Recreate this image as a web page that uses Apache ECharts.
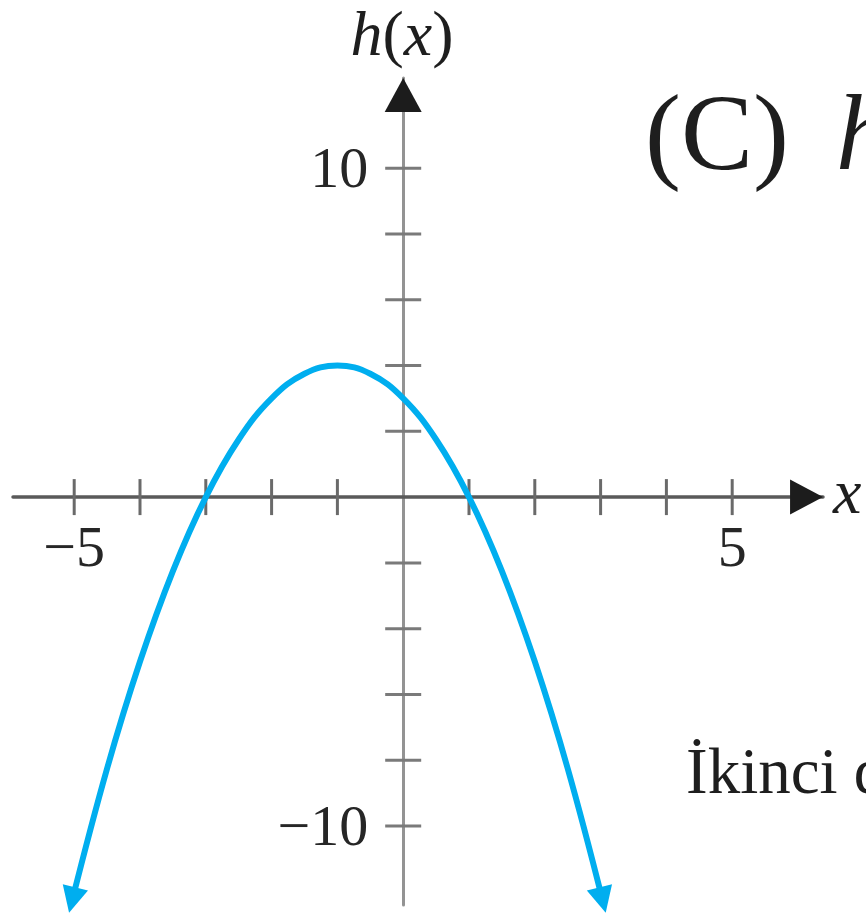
<!DOCTYPE html>
<html>
<head>
<meta charset="utf-8">
<script src="https://cdn.jsdelivr.net/npm/echarts@6/dist/echarts.min.js"></script>
<style>
  html, body { margin: 0; padding: 0; background: #fff; }
  #chart { width: 866px; height: 913px; }
</style>
</head>
<body>
<div id="chart"></div>
<script>
// parabola (vertex at (-1, 4), zeros at -3 and 1)
var curveX = [-5.03, -4.5, -4, -3.5, -3, -2.5, -2, -1.5, -1, -0.5, 0, 0.5, 1, 1.5, 2, 2.5, 3.03];
var curveY = [-12.25, -8.25, -5, -2.25, 0, 1.75, 3, 3.75, 4, 3.75, 3, 1.75, 0, -2.25, -5, -8.25, -12.25];

var xTicks = [-5, -4, -3, -2, -1, 1, 2, 3, 4, 5];
var yTicks = [-10, -8, -6, -4, -2, 2, 4, 6, 8, 10];
var xLabels = [-5, 5];
var yLabels = [-10, 10];

// axis ends (arrow heads)
var xArrow = [6.13, 0];
var yArrow = [0, 12.22];

var serif = 'Liberation Serif';

function fmt(v) {
  return v < 0 ? '\u2212' + Math.abs(v) : '' + v;
}

var myChart = echarts.init(document.getElementById('chart'));

var curveData = [];
for (var i = 0; i < curveX.length; i++) {
  var item = { value: [curveX[i], curveY[i]], symbol: 'none' };
  if (i == 0) {
    item.symbol = 'triangle';
    item.symbolRotate = 166;
  }
  if (i == curveX.length - 1) {
    item.symbol = 'triangle';
    item.symbolRotate = -166;
  }
  curveData.push(item);
}

var labelFont = {
  show: true,
  fontFamily: serif,
  fontSize: 58,
  color: '#262626'
};

var option = {
  animation: false,
  backgroundColor: '#fff',
  grid: { left: 13, right: 43, top: 78, bottom: 8, containLabel: false, outerBoundsMode: 'none' },
  xAxis: {
    type: 'value',
    min: -5.93,
    max: 6.38,
    splitLine: { show: false },
    axisTick: { show: false },
    axisLabel: { show: false },
    axisLine: { show: true, onZero: true, lineStyle: { color: '#5a5a5a', width: 3.5 } }
  },
  yAxis: {
    type: 'value',
    min: -12.4,
    max: 12.74,
    splitLine: { show: false },
    axisTick: { show: false },
    axisLabel: { show: false },
    axisLine: { show: true, onZero: true, lineStyle: { color: '#939393', width: 3 } }
  },
  series: [
    {
      // x-axis ticks crossing the axis
      type: 'scatter',
      symbol: 'rect',
      symbolSize: [3, 36],
      itemStyle: { color: '#6a6a6a', opacity: 1 },
      silent: true,
      z: 2,
      data: xTicks.map(function (v) { return [v, 0]; })
    },
    {
      type: 'scatter',
      symbol: 'rect',
      symbolSize: [36, 3],
      itemStyle: { color: '#7a7a7a', opacity: 1 },
      silent: true,
      z: 2,
      data: yTicks.map(function (v) { return [0, v]; })
    },
    {
      // tick labels on the x axis
      type: 'scatter',
      symbolSize: 0,
      itemStyle: { color: 'transparent', opacity: 1 },
      silent: true,
      label: Object.assign({}, labelFont, {
        position: 'bottom',
        distance: 25,
        formatter: function (p) { return fmt(p.value[0]); }
      }),
      data: xLabels.map(function (v) { return [v, 0]; })
    },
    {
      type: 'scatter',
      symbolSize: 0,
      itemStyle: { color: 'transparent', opacity: 1 },
      silent: true,
      label: Object.assign({}, labelFont, {
        position: 'left',
        distance: 35,
        offset: [0, 4],
        formatter: function (p) { return fmt(p.value[1]); }
      }),
      data: yLabels.map(function (v) { return [0, v]; })
    },
    {
      type: 'scatter',
      symbol: 'triangle',
      symbolSize: [35, 33],
      symbolRotate: -90,
      itemStyle: { color: '#1c1c1c', opacity: 1 },
      silent: true,
      z: 3,
      data: [xArrow]
    },
    {
      type: 'scatter',
      symbol: 'triangle',
      symbolSize: [37, 34],
      itemStyle: { color: '#1c1c1c', opacity: 1 },
      silent: true,
      z: 3,
      data: [yArrow]
    },
    {
      type: 'line',
      smooth: 0.4,
      showSymbol: true,
      symbolSize: [26, 26],
      lineStyle: { color: '#00aeef', width: 6 },
      itemStyle: { color: '#00aeef', opacity: 1 },
      silent: true,
      z: 4,
      data: curveData
    }
  ],
  graphic: [
    {
      type: 'text',
      style: {
        x: 402, y: 38,
        text: '{i|h}({i|x})',
        align: 'center', verticalAlign: 'middle',
        fontFamily: serif, fontSize: 64, fill: '#1e1e1e',
        rich: { i: { fontStyle: 'italic', fontFamily: serif, fontSize: 64 } }
      }
    },
    {
      type: 'text',
      style: {
        x: 833, y: 496,
        text: 'x',
        align: 'left', verticalAlign: 'middle',
        fontFamily: serif, fontSize: 64, fontStyle: 'italic', fill: '#1e1e1e'
      }
    },
    {
      type: 'text',
      style: {
        x: 645, y: 141,
        text: '(C) {i|h}',
        align: 'left', verticalAlign: 'middle',
        fontFamily: serif, fontSize: 108, fill: '#1e1e1e',
        rich: { i: { fontStyle: 'italic', fontFamily: serif, fontSize: 108, padding: [0, 0, 0, 20] } }
      }
    },
    {
      type: 'text',
      style: {
        x: 686, y: 776,
        text: '\u0130kinci d',
        align: 'left', verticalAlign: 'middle',
        fontFamily: serif, fontSize: 65, fill: '#1e1e1e'
      }
    }
  ]
};

myChart.setOption(option);
window.onresize = myChart.resize;
</script>
</body>
</html>
